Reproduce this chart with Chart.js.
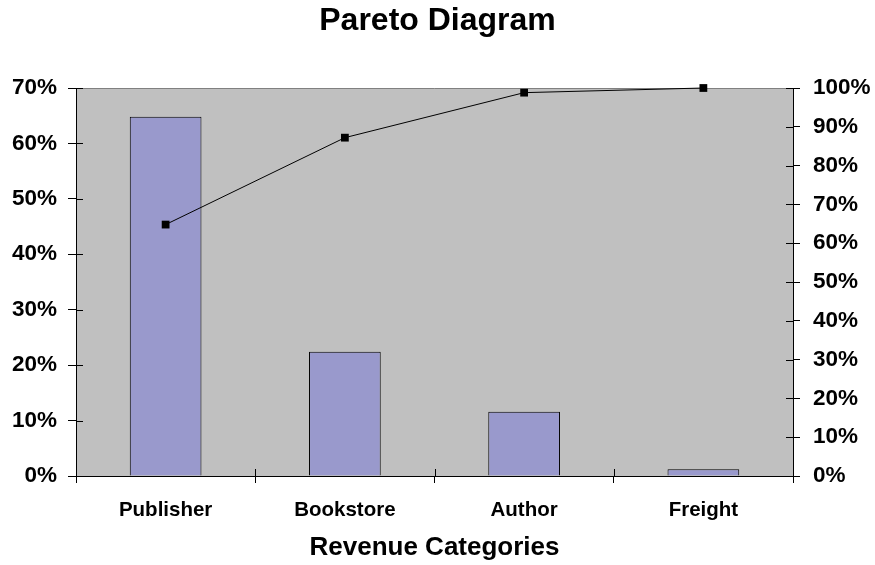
<!DOCTYPE html>
<html>
<head>
    <title>Pareto Diagram</title>
    <script src="https://cdn.jsdelivr.net/npm/chart.js"></script>
    <style>
        body { margin: 0; background: #fff; }
    </style>
</head>
<body>
    <canvas id="paretoChart" width="875" height="565"></canvas>

    <script>
        const categories = ['Publisher', 'Bookstore', 'Author', 'Freight'];
        const sharePct = [64.8, 22.4, 11.6, 1.2];          // bars, left axis
        const cumulativePct = [64.8, 87.2, 98.8, 100];     // line, right axis
        const leftMax = 70;
        const rightMax = 100;
        const tickStep = 10;

        const FONT = 'Liberation Sans, Arial, sans-serif';

        // grey plot area + the small tick marks that poke into the plot
        const plotArea = {
            id: 'plotArea',
            beforeDraw(chart) {
                const { ctx, chartArea: a } = chart;
                ctx.save();
                ctx.fillStyle = '#c0c0c0';
                ctx.fillRect(a.left, a.top, a.right - a.left, a.bottom - a.top);
                ctx.strokeStyle = '#808080';
                ctx.lineWidth = 1;
                ctx.beginPath();
                ctx.moveTo(a.left, a.top + 0.5);
                ctx.lineTo(a.right, a.top + 0.5);
                ctx.stroke();
                ctx.restore();
            },
            afterDraw(chart) {
                const { ctx, chartArea: a, scales } = chart;
                ctx.save();
                ctx.strokeStyle = '#000';
                ctx.lineWidth = 1;
                ctx.beginPath();
                scales.y.ticks.forEach(t => {
                    const y = Math.round(scales.y.getPixelForValue(t.value)) + 0.5;
                    ctx.moveTo(a.left, y);
                    ctx.lineTo(a.left + 7, y);
                });
                scales.y2.ticks.forEach(t => {
                    const y = Math.round(scales.y2.getPixelForValue(t.value)) + 0.5;
                    ctx.moveTo(a.right - 7, y);
                    ctx.lineTo(a.right, y);
                });
                const x = scales.x;
                for (let i = 0; i <= categories.length; i++) {
                    let px;
                    if (i === 0) px = a.left;
                    else if (i === categories.length) px = a.right;
                    else px = (x.getPixelForValue(i - 1) + x.getPixelForValue(i)) / 2;
                    px = Math.round(px) + 0.5;
                    ctx.moveTo(px, a.bottom - 7);
                    ctx.lineTo(px, a.bottom);
                }
                ctx.stroke();
                ctx.restore();
            }
        };

        const ctx = document.getElementById('paretoChart').getContext('2d');

        new Chart(ctx, {
            data: {
                labels: categories,
                datasets: [
                    {
                        type: 'line',
                        label: 'Cumulative',
                        data: cumulativePct,
                        yAxisID: 'y2',
                        borderColor: '#000',
                        backgroundColor: '#000',
                        borderWidth: 1,
                        pointStyle: 'rect',
                        pointRadius: 5.5,
                        pointBorderWidth: 0,
                        tension: 0,
                        clip: false,
                        order: 0
                    },
                    {
                        type: 'bar',
                        label: 'Share',
                        data: sharePct,
                        yAxisID: 'y',
                        backgroundColor: '#9999cc',
                        borderColor: '#000',
                        borderWidth: 1,
                        barPercentage: 0.4,
                        categoryPercentage: 1.0,
                        order: 1
                    }
                ]
            },
            options: {
                responsive: false,
                animation: false,
                layout: { padding: 0 },
                plugins: {
                    legend: { display: false },
                    tooltip: { enabled: false },
                    title: {
                        display: true,
                        text: 'Pareto Diagram',
                        color: '#000',
                        font: { family: FONT, size: 32, weight: 'bold' },
                        padding: { top: 2, bottom: 47.6 }
                    }
                },
                scales: {
                    x: {
                        offset: true,
                        grid: {
                            display: true,
                            offset: true,
                            drawOnChartArea: false,
                            drawTicks: true,
                            tickLength: 7,
                            color: '#000'
                        },
                        border: { display: true, color: '#000', width: 1 },
                        ticks: {
                            color: '#000',
                            padding: 15,
                            maxRotation: 0,
                            font: { family: FONT, size: 20.5, weight: 'bold' }
                        },
                        title: {
                            display: true,
                            text: 'Revenue Categories',
                            color: '#000',
                            font: { family: FONT, size: 26, weight: 'bold' },
                            padding: { top: 2, bottom: 2 }
                        },
                        afterFit(scale) { scale.height = 89; }
                    },
                    y: {
                        position: 'left',
                        min: 0,
                        max: leftMax,
                        grid: {
                            drawOnChartArea: false,
                            tickLength: 8,
                            color: '#000'
                        },
                        border: { display: true, color: '#000', width: 1 },
                        ticks: {
                            stepSize: tickStep,
                            color: '#000',
                            padding: 11,
                            font: { family: FONT, size: 22.5, weight: 'bold' },
                            callback: v => v + '%'
                        },
                        afterFit(scale) { scale.width = 76; }
                    },
                    y2: {
                        position: 'right',
                        min: 0,
                        max: rightMax,
                        grid: {
                            drawOnChartArea: false,
                            tickLength: 7,
                            color: '#000'
                        },
                        border: { display: true, color: '#000', width: 1 },
                        ticks: {
                            stepSize: tickStep,
                            color: '#000',
                            padding: 13,
                            font: { family: FONT, size: 22.5, weight: 'bold' },
                            callback: v => v + '%'
                        },
                        afterFit(scale) { scale.width = 82; }
                    }
                }
            },
            plugins: [plotArea]
        });
    </script>
</body>
</html>
